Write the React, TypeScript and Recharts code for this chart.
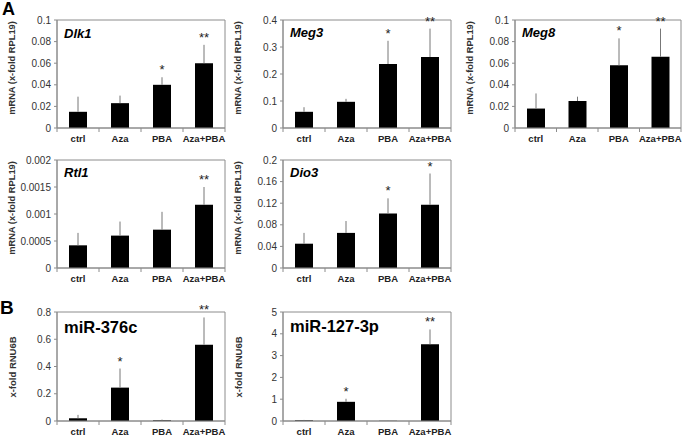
import React from 'react';
import { BarChart, Bar, XAxis, YAxis, ErrorBar, LabelList, ReferenceArea, Customized } from 'recharts';

const groups = ['ctrl', 'Aza', 'PBA', 'Aza+PBA'];

// panel A - mRNA relative to RPL19
const dlk1Mean = [0.015, 0.023, 0.04, 0.06];
const dlk1Err = [0.014, 0.007, 0.007, 0.017];
const dlk1Sig = ['', '', '*', '**'];

const meg3Mean = [0.06, 0.097, 0.237, 0.263];
const meg3Err = [0.017, 0.011, 0.086, 0.105];
const meg3Sig = ['', '', '*', '**'];

const meg8Mean = [0.018, 0.025, 0.058, 0.066];
const meg8Err = [0.014, 0.004, 0.025, 0.026];
const meg8Sig = ['', '', '*', '**'];

const rtl1Mean = [0.00042, 0.0006, 0.00071, 0.00117];
const rtl1Err = [0.00023, 0.00026, 0.00033, 0.00033];
const rtl1Sig = ['', '', '', '**'];

const dio3Mean = [0.045, 0.065, 0.101, 0.117];
const dio3Err = [0.02, 0.022, 0.028, 0.058];
const dio3Sig = ['', '', '*', '*'];

// panel B - miRNA relative to RNU6B
const mir376Mean = [0.02, 0.245, 0.005, 0.56];
const mir376Err = [0.025, 0.14, 0.005, 0.2];
const mir376Sig = ['', '*', '', '**'];

const mir127Mean = [0.03, 0.88, 0.01, 3.52];
const mir127Err = [0.02, 0.14, 0.01, 0.68];
const mir127Sig = ['', '*', '', '**'];

const dlk1Ticks = [0, 0.02, 0.04, 0.06, 0.08, 0.1];
const meg3Ticks = [0, 0.1, 0.2, 0.3, 0.4];
const meg8Ticks = [0, 0.02, 0.04, 0.06, 0.08, 0.1];
const rtl1Ticks = [0, 0.0005, 0.001, 0.0015, 0.002];
const dio3Ticks = [0, 0.04, 0.08, 0.12, 0.16, 0.2];
const mir376Ticks = [0, 0.2, 0.4, 0.6, 0.8];
const mir127Ticks = [0, 1, 2, 3, 4, 5];

const FONT = '"Liberation Sans", Arial, sans-serif';
const AXIS = '#8c8c8c';

const rows = (mean: number[], err: number[], sig: string[]) =>
  groups.map((g, i) => ({ group: g, mean: mean[i], err: err[i], range: [0, err[i]], sig: sig[i] }));

type PanelProps = {
  left: number;
  top: number;
  plotW?: number;
  plotH?: number;
  data: any[];
  ticks: number[];
  title: string;
  italic?: boolean;
  titleSize: number;
  titleDy: number;
  ylabel: string;
  ylabelMid: number;
  ylabelSize: number;
};

const Star = (p: any) => {
  if (!p.value) return null;
  return (
    <text x={p.x + p.width / 2} y={p.y - 3} textAnchor="middle" fontSize={13} fill="#222" fontFamily={FONT}>
      {p.value}
    </text>
  );
};

const Panel = ({ left, top, plotW = 168, plotH = 108, data, ticks, title, italic, titleSize, titleDy, ylabel, ylabelMid, ylabelSize }: PanelProps) => {
  const ML = 57;
  const MT = 12;
  const band = plotW / 4;
  const max = ticks[ticks.length - 1];

  const GroupTick = (props: any) => {
    const { x, y, payload, index } = props;
    return (
      <g>
        <line x1={x - band / 2} x2={x - band / 2} y1={y} y2={y + 4} stroke={AXIS} />
        {index === groups.length - 1 && <line x1={x + band / 2} x2={x + band / 2} y1={y} y2={y + 4} stroke={AXIS} />}
        <text x={x} y={y + 14} textAnchor="middle" fontSize={9.5} fontWeight="bold" fill="#222" fontFamily={FONT}>
          {payload.value}
        </text>
      </g>
    );
  };

  const Texts = () => (
    <g>
      <text x={ML + 7} y={MT + titleDy} fontSize={titleSize} fontWeight="bold" fontStyle={italic ? 'italic' : 'normal'} fill="#000" fontFamily={FONT}>
        {title}
      </text>
      <text
        transform={`translate(12, ${MT + ylabelMid}) rotate(-90)`}
        textAnchor="middle"
        dominantBaseline="central"
        fontSize={ylabelSize}
        fontWeight="bold"
        fill="#333"
        fontFamily={FONT}
      >
        {ylabel}
      </text>
    </g>
  );

  return (
    <div style={{ position: 'absolute', left: left - ML, top: top - MT }}>
      <BarChart width={ML + plotW + 3} height={MT + plotH + 22} data={data} margin={{ top: MT, right: 3, bottom: 0, left: 0 }}>
        <ReferenceArea y1={0} y2={max} stroke={AXIS} fill="none" />
        <XAxis dataKey="group" interval={0} tickLine={false} tickSize={0} tickMargin={0} height={22} axisLine={{ stroke: AXIS }} tick={<GroupTick />} />
        <YAxis
          width={ML}
          domain={[0, max]}
          ticks={ticks}
          allowDataOverflow
          tickSize={3}
          tickMargin={3}
          axisLine={{ stroke: AXIS }}
          tickLine={{ stroke: AXIS }}
          tick={{ fontSize: 10, fill: '#333', fontFamily: FONT }}
        />
        <Bar dataKey="mean" stackId="s" fill="#000" barSize={18} isAnimationActive={false}>
          <ErrorBar dataKey="range" width={0} stroke="#777" strokeWidth={1} direction="y" isAnimationActive={false} />
        </Bar>
        <Bar dataKey="err" stackId="s" fill="none" barSize={18} isAnimationActive={false}>
          <LabelList dataKey="sig" content={Star} />
        </Bar>
        <Customized component={Texts} />
      </BarChart>
    </div>
  );
};

const mrnaLabel = 'mRNA (x-fold RPL19)';
const mirLabel = 'x-fold RNU6B';

export default function App() {
  return (
    <div style={{ position: 'absolute', left: 0, top: 0, width: 685, height: 436, background: '#fff', fontFamily: FONT }}>
      <svg width={685} height={436} style={{ position: 'absolute', left: 0, top: 0 }}>
        <text x={2} y={15} fontSize={18} fontWeight="bold" fill="#000" fontFamily={FONT}>A</text>
        <text x={0} y={314} fontSize={19} fontWeight="bold" fill="#000" fontFamily={FONT}>B</text>
      </svg>
      <Panel left={57} top={20} data={rows(dlk1Mean, dlk1Err, dlk1Sig)} ticks={dlk1Ticks} title="Dlk1" italic titleSize={13} titleDy={18} ylabel={mrnaLabel} ylabelMid={48} ylabelSize={9.3} />
      <Panel left={283} top={20} data={rows(meg3Mean, meg3Err, meg3Sig)} ticks={meg3Ticks} title="Meg3" italic titleSize={13} titleDy={17} ylabel={mrnaLabel} ylabelMid={48} ylabelSize={9.3} />
      <Panel left={515} top={20} plotW={166} data={rows(meg8Mean, meg8Err, meg8Sig)} ticks={meg8Ticks} title="Meg8" italic titleSize={13} titleDy={17} ylabel={mrnaLabel} ylabelMid={48} ylabelSize={9.3} />
      <Panel left={57} top={160} data={rows(rtl1Mean, rtl1Err, rtl1Sig)} ticks={rtl1Ticks} title="Rtl1" italic titleSize={13} titleDy={17} ylabel={mrnaLabel} ylabelMid={48} ylabelSize={9.3} />
      <Panel left={283} top={160} data={rows(dio3Mean, dio3Err, dio3Sig)} ticks={dio3Ticks} title="Dio3" italic titleSize={13} titleDy={17} ylabel={mrnaLabel} ylabelMid={48} ylabelSize={9.3} />
      <Panel left={57} top={312} plotH={109} data={rows(mir376Mean, mir376Err, mir376Sig)} ticks={mir376Ticks} title="miR-376c" titleSize={16.5} titleDy={21} ylabel={mirLabel} ylabelMid={55} ylabelSize={9.5} />
      <Panel left={283} top={312} plotH={109} data={rows(mir127Mean, mir127Err, mir127Sig)} ticks={mir127Ticks} title="miR-127-3p" titleSize={16.5} titleDy={20} ylabel={mirLabel} ylabelMid={55} ylabelSize={9.5} />
    </div>
  );
}
